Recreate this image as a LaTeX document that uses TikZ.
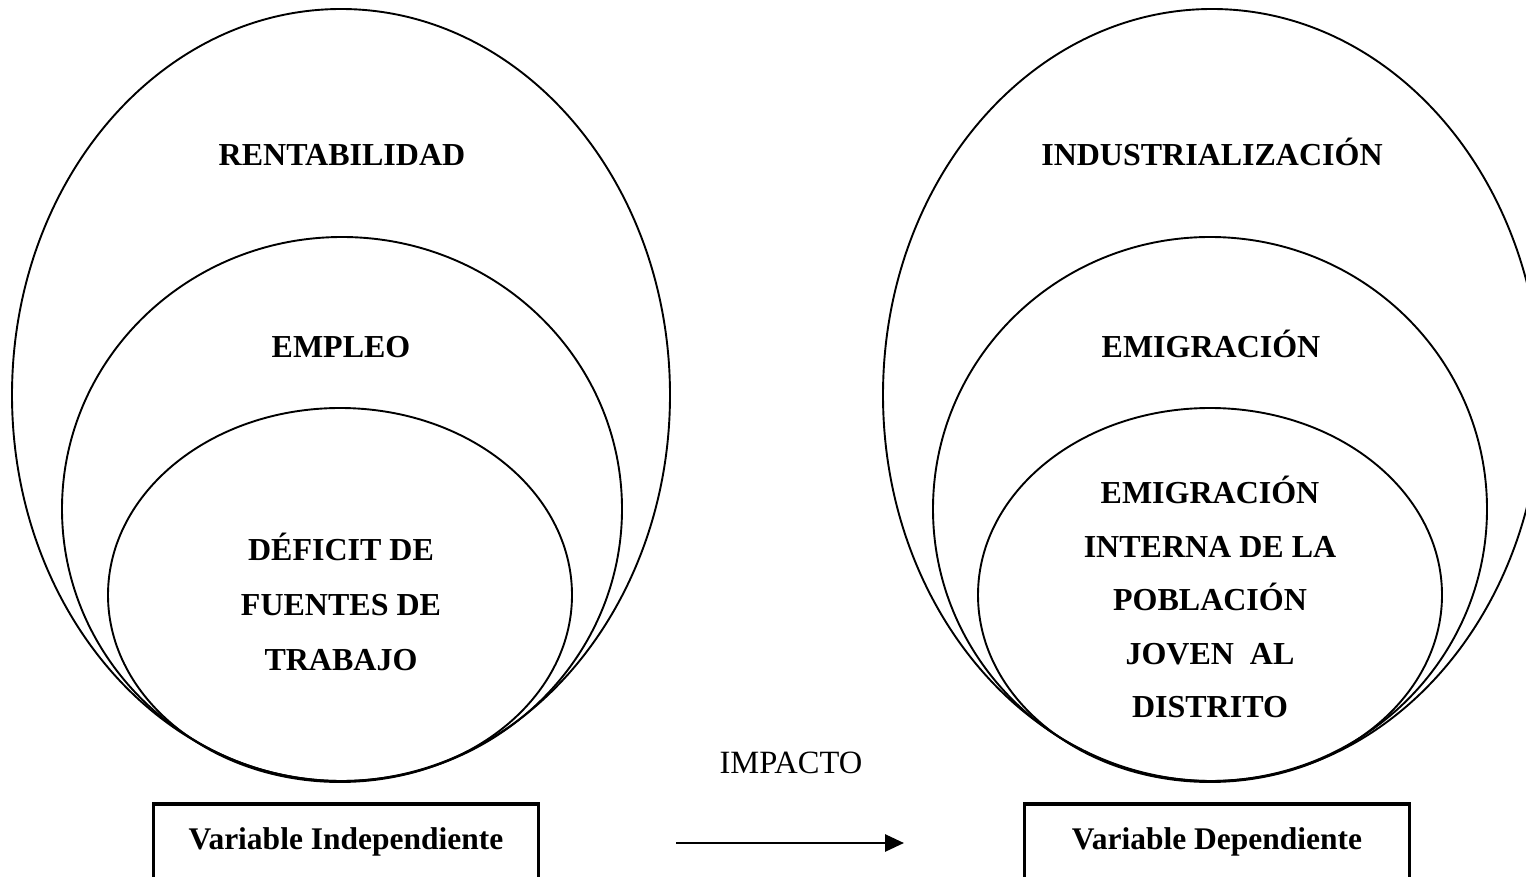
\documentclass[tikz,border=0pt]{standalone}
\usepackage{fontspec}
\setmainfont{Liberation Serif}
\usetikzlibrary{arrows.meta}

\begin{document}
\begin{tikzpicture}[x=1pt,y=-1pt,line width=1.9pt,
    every node/.style={inner sep=0pt,align=center},
    lbl/.style={font=\bfseries\fontsize{32}{55}\selectfont},
    varbox/.style={minimum width=383pt,minimum height=74pt,
      font=\bfseries\fontsize{31.5}{36}\selectfont},
    >={Triangle[length=19pt,width=17pt]}]
    \useasboundingbox(0,0)rectangle(1526,877);
    % left ellipses
    \draw(341,395)ellipse[x radius=329,y radius=386];
    \draw(342,509)ellipse[x radius=280,y radius=272];
    \draw(340,595)ellipse[x radius=232,y radius=187];
    \node[lbl](rent)at(342,155){RENTABILIDAD};
    \node[lbl](empl)at(341,347){EMPLEO};
    \node[lbl](defi)at(341,602){DÉFICIT DE\\FUENTES DE\\TRABAJO};
    % right ellipses
    \draw(1212,395)ellipse[x radius=329,y radius=386];
    \draw(1210,509)ellipse[x radius=277,y radius=272];
    \draw(1210,595)ellipse[x radius=232,y radius=187];
    \node[lbl](indu)at(1212,152){INDUSTRIALIZACIÓN};
    \node[lbl](emig)at(1211,344){EMIGRACIÓN};
    \node[lbl,font=\bfseries\fontsize{32}{53.5}\selectfont](inte)at(1210,597)
      {EMIGRACIÓN\\INTERNA DE LA\\POBLACIÓN\\JOVEN~~AL\\DISTRITO};
    % variables
    \node[varbox,anchor=north](vind)at(346,804){Variable Independiente};
    \node[varbox,anchor=north](vdep)at(1217,804){Variable Dependiente};
    \draw[line width=3.6pt](vind.north west)rectangle([yshift=-40pt]vind.south east);
    \draw[line width=3.6pt](vdep.north west)rectangle([yshift=-40pt]vdep.south east);
    \node[font=\fontsize{32.5}{36}\selectfont](impa)at(791,763){IMPACTO};
    \coordinate(ia)at(676,843);
    \coordinate(ib)at(904,843);
    \draw[->,line width=2.8pt](ia)--(ib);
\end{tikzpicture}
\end{document}
